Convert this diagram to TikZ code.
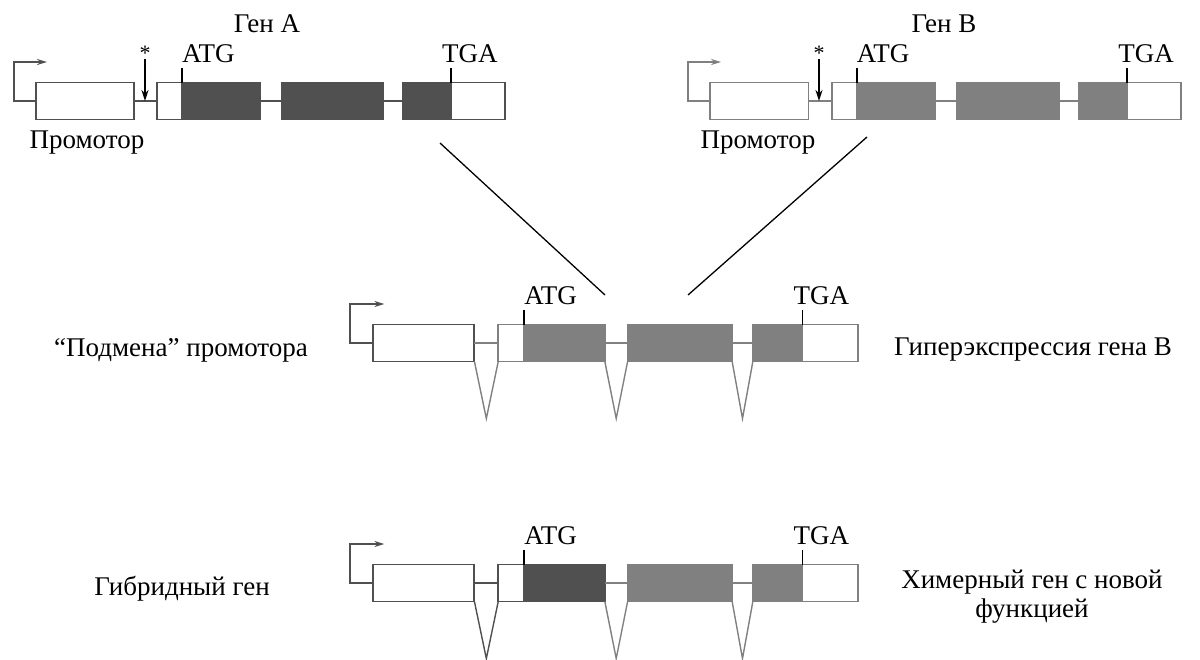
\documentclass[tikz,border=0pt]{standalone}
\usepackage{fontspec}
\setmainfont{Liberation Serif}
\usetikzlibrary{arrows.meta,fit,calc}
\definecolor{dk}{HTML}{505050}
\definecolor{gy}{HTML}{808080}
\tikzset{
  lbl/.style={font=\fontsize{27}{29}\selectfont, inner sep=0pt, text=black},
  starlbl/.style={font=\fontsize{22}{24}\selectfont, inner sep=0pt, text=black},
  seg/.style={inner sep=0pt, outer sep=0pt, line width=1.9pt},
  wire/.style={line width=1.9pt},
  tss/.style={line width=1.9pt, line join=miter, -{Stealth[length=10pt,width=6pt]}},
  tickmark/.style={line width=1.9pt, black},
  vline/.style={line width=1.4pt},
  ptr/.style={line width=1.8pt, black, -{Stealth[length=11pt,width=7pt]}},
  diag/.style={line width=1.3pt, black}
}
% #1 prefix, #2 x0, #3 yc, #4 xscale, #5 promoter colour, #6 link colour,
% #7 exon-1 colour, #8 colour of the rest
\newcommand\genemodel[8]{%
  \begin{scope}[shift={(#2,#3)},xscale=#4]
    \coordinate (#1-pA) at (0,-18.5);   \coordinate (#1-pB) at (98,18.5);
    \coordinate (#1-uA) at (121,-18.5); \coordinate (#1-uB) at (146,18.5);
    \coordinate (#1-cA) at (146,-18.5); \coordinate (#1-cB) at (224,18.5);
    \coordinate (#1-xA) at (246,-18.5); \coordinate (#1-xB) at (347,18.5);
    \coordinate (#1-yA) at (367,-18.5); \coordinate (#1-yB) at (415,18.5);
    \coordinate (#1-zA) at (415,-18.5); \coordinate (#1-zB) at (469,18.5);
    \coordinate (#1-bend) at (-22,0);
    \coordinate (#1-tss) at (11,-39);
    \coordinate (#1-atgt) at (146,-33);
    \coordinate (#1-tgat) at (415,-33);
  \end{scope}
  \node[seg, draw=#5, fill=white, fit=(#1-pA)(#1-pB)] (#1-prom) {};
  \node[seg, draw=#6, fill=white, fit=(#1-uA)(#1-uB)] (#1-e1u) {};
  \node[seg, draw=#7, fill=#7, fit=(#1-cA)(#1-cB)] (#1-e1) {};
  \node[seg, draw=#8, fill=#8, fit=(#1-xA)(#1-xB)] (#1-e2) {};
  \node[seg, draw=#8, fill=#8, fit=(#1-yA)(#1-yB)] (#1-e3) {};
  \node[seg, draw=#8, fill=white, fit=(#1-zA)(#1-zB)] (#1-e3u) {};
  \draw[tss, #5] (#1-prom.west) -- (#1-bend) |- (#1-tss);
  \draw[wire, #6] (#1-prom.east) -- (#1-e1u.west);
  \draw[wire, #8] (#1-e1.east) -- (#1-e2.west);
  \draw[wire, #8] (#1-e2.east) -- (#1-e3.west);
  \draw[tickmark] (#1-e1.north west) -- (#1-atgt);
  \draw[tickmark] (#1-e3.north east) -- (#1-tgat);
  \node[lbl, anchor=base west] (#1-atg) at ($(#1-atgt)+(0,-6)$) {ATG};
  \node[lbl, anchor=base west] (#1-tga) at ($(#1-tgat)+(-9,-6)$) {TGA};
}
\newcommand\splicev[3]{% prefix, colour of first V, colour of others
  \coordinate (#1-v1) at ($(#1-prom.south east)!.5!(#1-e1u.south west)+(0,57)$);
  \coordinate (#1-v2) at ($(#1-e1.south east)!.5!(#1-e2.south west)+(0,57)$);
  \coordinate (#1-v3) at ($(#1-e2.south east)!.5!(#1-e3.south west)+(0,57)$);
  \draw[vline, #2] (#1-prom.south east) -- (#1-v1) -- (#1-e1u.south west);
  \draw[vline, #3] (#1-e1.south east) -- (#1-v2) -- (#1-e2.south west);
  \draw[vline, #3] (#1-e2.south east) -- (#1-v3) -- (#1-e3.south west);
}
\begin{document}
\begin{tikzpicture}[x=1pt,y=-1pt]
\useasboundingbox (0,0) rectangle (1200,659);

% Gene A
\genemodel{a}{36}{101}{1}{dk}{dk}{dk}{dk}
\node[lbl, anchor=base] (a-name) at (267,32) {Ген А};
\node[lbl, anchor=base] (a-plbl) at (87,148) {Промотор};
\node[starlbl, anchor=base] (a-star) at (145,60) {*};
\coordinate (a-ptr) at (145,59);
\draw[ptr] (a-ptr) -- (a-ptr |- a-prom.east);

% Gene B
\genemodel{b}{710}{101}{1.005}{gy}{gy}{gy}{gy}
\node[lbl, anchor=base] (b-name) at (944,32) {Ген В};
\node[lbl, anchor=base] (b-plbl) at (758,148) {Промотор};
\node[starlbl, anchor=base] (b-star) at (819,60) {*};
\coordinate (b-ptr) at (819,59);
\draw[ptr] (b-ptr) -- (b-ptr |- b-prom.east);

% Recombination lines
\coordinate (d1s) at (440,143); \coordinate (d1e) at (605,295);
\coordinate (d2s) at (867,137); \coordinate (d2e) at (688,295);
\draw[diag] (d1s) -- (d1e);
\draw[diag] (d2s) -- (d2e);

% Promoter swap
\genemodel{m}{373}{343}{1.035}{dk}{gy}{gy}{gy}
\splicev{m}{gy}{gy}
\node[lbl, anchor=base] (m-left) at (181,356) {“Подмена” промотора};
\node[lbl, anchor=base] (m-right) at (1033,355) {Гиперэкспрессия гена В};

% Hybrid gene
\genemodel{h}{373}{583}{1.035}{dk}{dk}{dk}{gy}
\splicev{h}{dk}{gy}
\node[lbl, anchor=base] (h-left) at (182,595) {Гибридный ген};
\node[lbl, anchor=base] (h-right1) at (1032,588) {Химерный ген с новой};
\node[lbl, anchor=base] (h-right2) at (1032,617) {функцией};
\end{tikzpicture}
\end{document}
